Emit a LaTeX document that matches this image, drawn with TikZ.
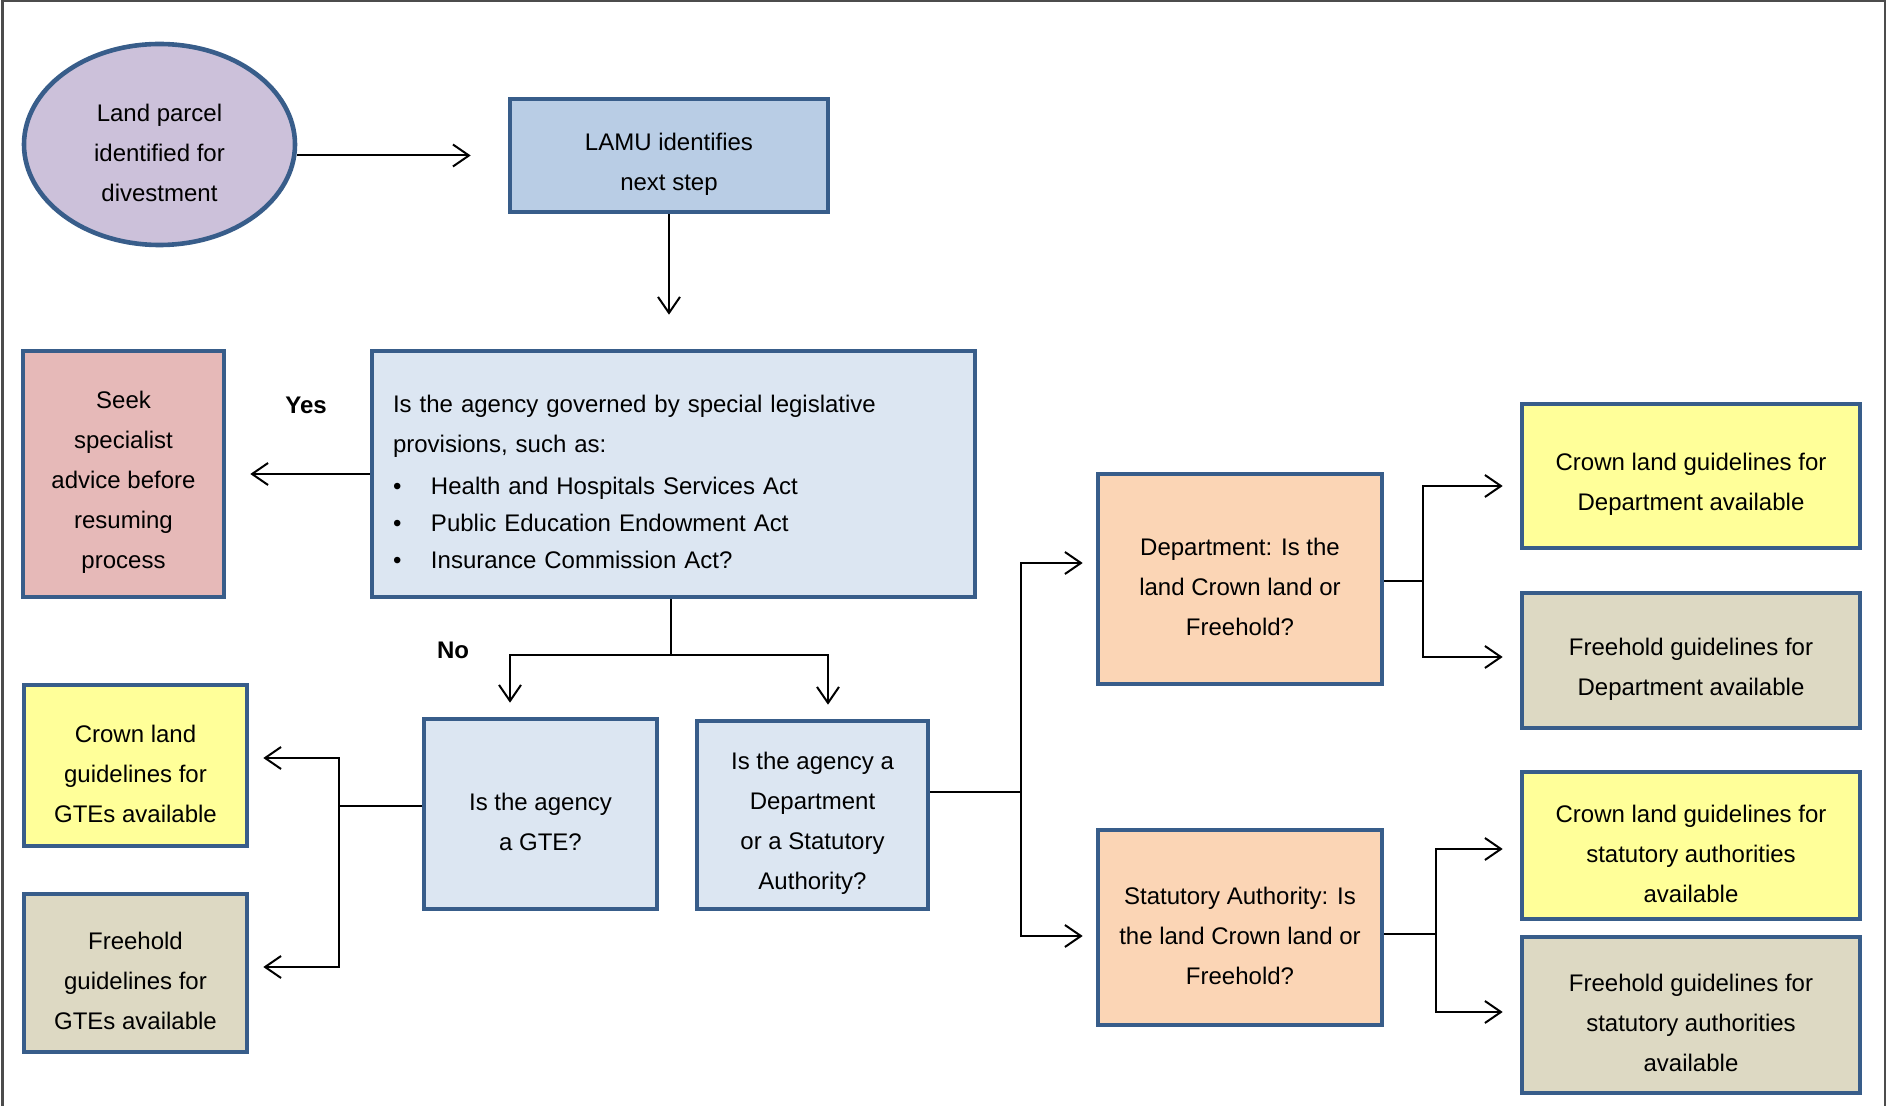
\documentclass[tikz,border=0pt]{standalone}
\usepackage{fontspec}
\setmainfont{Liberation Sans}
\usetikzlibrary{arrows.meta,shapes.geometric}
\definecolor{bord}{HTML}{385D8A}
\definecolor{lavfill}{HTML}{CCC1DA}
\definecolor{lamufill}{HTML}{B9CDE5}
\definecolor{qfill}{HTML}{DCE6F2}
\definecolor{seekfill}{HTML}{E6B9B8}
\definecolor{crownfill}{HTML}{FFFF99}
\definecolor{freefill}{HTML}{DDD9C3}
\definecolor{deptfill}{HTML}{FBD5B5}
\newcommand\tpstrut{\rule{0pt}{17pt}}
\begin{document}
\begin{tikzpicture}[x=0.5pt,y=-0.5pt,
  box/.style={draw=bord, line width=2.3pt, align=center, inner sep=0pt,
    font=\fontsize{12}{20}\selectfont},
  conn/.style={line width=1pt, draw=black},
  arr/.style={conn, -{Straight Barb[length=8pt,width=11pt,line width=1pt]}},
  lbl/.style={font=\bfseries\fontsize{12}{14}\selectfont, inner sep=0pt}
]
\useasboundingbox (0,0) rectangle (1886,1106);
% frame
\draw[line width=1.2pt, color=black!70] (2.5,1106) -- (2.5,1) -- (1885,1) -- (1885,1106);

% nodes
\node[box, ellipse, fill=lavfill, minimum width=135.5pt, minimum height=100.5pt] (lp) at (159.5,144.5)
  {\tpstrut Land parcel\\identified for\\divestment};
\node[box, fill=lamufill, minimum width=159pt, minimum height=56.5pt] (lamu) at (669,155.5)
  {\tpstrut LAMU identifies\\next step};
\node[box, fill=qfill, minimum width=301.5pt, minimum height=123pt, text width=280.5pt, align=left] (big) at (673.5,474)
  {\tpstrut Is the agency governed by special legislative\\
   provisions, such as:\\[1pt]
   \makebox[19pt][l]{\textbullet}Health and Hospitals Services Act\\[-1.5pt]
   \makebox[19pt][l]{\textbullet}Public Education Endowment Act\\[-1.5pt]
   \makebox[19pt][l]{\textbullet}Insurance Commission Act?};
\node[box, fill=seekfill, minimum width=100.5pt, minimum height=123pt] (seek) at (123.5,474)
  {\tpstrut Seek\\specialist\\advice before\\resuming\\process};
\node[box, fill=crownfill, minimum width=111.5pt, minimum height=80.5pt] (cgte) at (135.5,765.5)
  {\tpstrut Crown land\\guidelines for\\GTEs available};
\node[box, fill=freefill, minimum width=111.5pt, minimum height=79pt] (fgte) at (135.5,973)
  {\tpstrut Freehold\\guidelines for\\GTEs available};
\node[box, fill=qfill, minimum width=116.5pt, minimum height=95pt] (gte) at (540.5,814)
  {\tpstrut Is the agency\\a GTE?};
\node[box, fill=qfill, minimum width=115.5pt, minimum height=94pt] (dsa) at (812.5,815)
  {\tpstrut Is the agency a\\Department\\or a Statutory\\Authority?};
\node[box, fill=deptfill, minimum width=142pt, minimum height=105pt] (dept) at (1240,579)
  {\tpstrut Department: Is the\\land Crown land or\\Freehold?};
\node[box, fill=deptfill, minimum width=142pt, minimum height=97.5pt] (sa) at (1240,927.5)
  {\tpstrut Statutory Authority: Is\\the land Crown land or\\Freehold?};
\node[box, fill=crownfill, minimum width=169pt, minimum height=72pt] (cdept) at (1691,476)
  {\tpstrut Crown land guidelines for\\Department available};
\node[box, fill=freefill, minimum width=169pt, minimum height=67.5pt] (fdept) at (1691,660.5)
  {\tpstrut Freehold guidelines for\\Department available};
\node[box, fill=crownfill, minimum width=169pt, minimum height=73.5pt] (csa) at (1691,845.5)
  {\tpstrut Crown land guidelines for\\statutory authorities\\available};
\node[box, fill=freefill, minimum width=169pt, minimum height=78pt] (fsa) at (1691,1015)
  {\tpstrut Freehold guidelines for\\statutory authorities\\available};

\node[lbl] (yes) at (306,405) {Yes};
\node[lbl] (no) at (453,650) {No};

% connectors
\draw[arr, shorten >=18.5pt] (lp.east |- lamu.west) -- (lamu.west);
\draw[arr, shorten >=17pt] (lamu.south) -- (lamu.south |- big.north);
\draw[arr, shorten >=12pt] (big.west) -- (seek.east);

\coordinate (nj) at (671,655);
\coordinate (nl) at (510,655);
\coordinate (nr) at (828,655);
\draw[conn] (nj |- big.south) -- (nj);
\draw[arr, shorten >=7pt] (nj) -- (nl) -- (nl |- gte.north);
\draw[arr, shorten >=7pt] (nj) -- (nr) -- (nr |- dsa.north);

\coordinate (gj) at (339,806);
\coordinate (gt) at (339,758);
\coordinate (gb) at (339,967);
\draw[conn] (gte.west |- gj) -- (gj);
\draw[arr, shorten >=7pt] (gj) -- (gt) -- (gt -| cgte.east);
\draw[arr, shorten >=7pt] (gj) -- (gb) -- (gb -| fgte.east);

\coordinate (dj) at (1021,792);
\coordinate (dt) at (1021,563);
\coordinate (db) at (1021,936);
\draw[conn] (dsa.east |- dj) -- (dj);
\draw[arr, shorten >=6.5pt] (dj) -- (dt) -- (dt -| dept.west);
\draw[arr, shorten >=6.5pt] (dj) -- (db) -- (db -| sa.west);

\coordinate (ej) at (1423,581);
\coordinate (et) at (1423,486);
\coordinate (eb) at (1423,657);
\draw[conn] (dept.east |- ej) -- (ej);
\draw[arr, shorten >=8.5pt] (ej) -- (et) -- (et -| cdept.west);
\draw[arr, shorten >=8.5pt] (ej) -- (eb) -- (eb -| fdept.west);

\coordinate (fj) at (1436,934);
\coordinate (ft) at (1436,849);
\coordinate (fb) at (1436,1012);
\draw[conn] (sa.east |- fj) -- (fj);
\draw[arr, shorten >=8.5pt] (fj) -- (ft) -- (ft -| csa.west);
\draw[arr, shorten >=8.5pt] (fj) -- (fb) -- (fb -| fsa.west);
\end{tikzpicture}
\end{document}
